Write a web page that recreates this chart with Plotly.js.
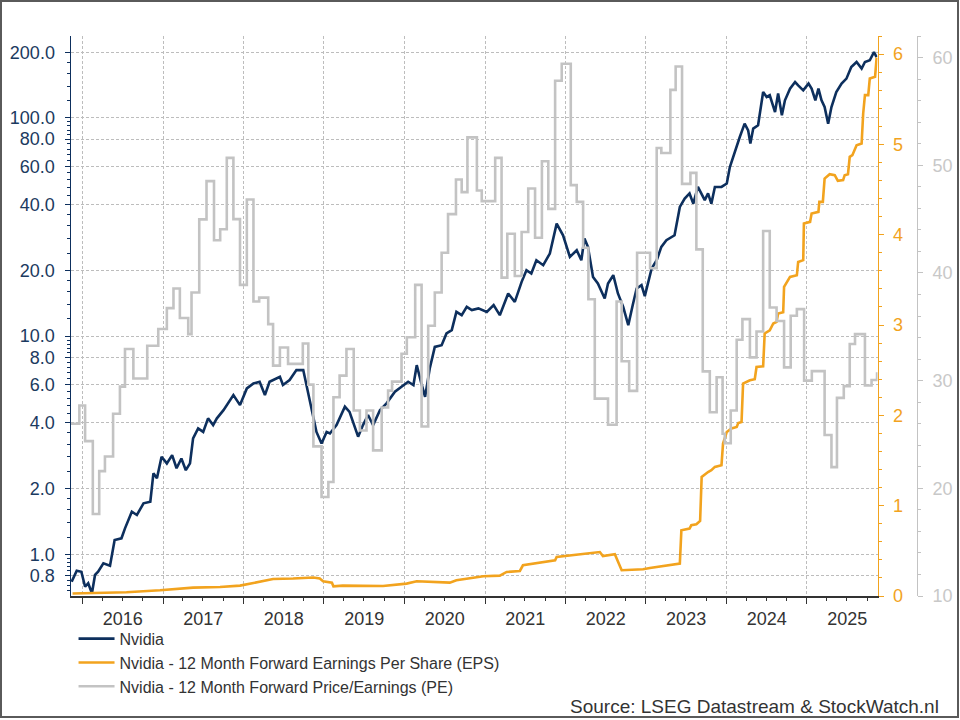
<!DOCTYPE html>
<html>
<head>
<meta charset="utf-8">
<script src="https://cdn.plot.ly/plotly-3.0.1.min.js"></script>
<style>
  html, body { margin: 0; padding: 0; background: #fff; }
  #wrap { position: relative; width: 960px; height: 720px; }
  #chart { width: 960px; height: 720px; }
  #frame { position: absolute; left: 0; top: 0; width: 959px; height: 718px; border: 2px solid #5a5a5a; box-sizing: border-box; pointer-events: none; }
</style>
</head>
<body>
<div id="wrap"><div id="chart"></div><div id="frame"></div></div>
<script>
// ---------------- DATA ----------------
const nvdaDates = ["2015-11-13","2015-12-06","2015-12-27","2016-01-13","2016-01-27","2016-02-13","2016-02-27","2016-03-12","2016-04-05","2016-05-05","2016-05-26","2016-06-26","2016-07-12","2016-08-12","2016-09-04","2016-10-04","2016-11-04","2016-11-18","2016-12-04","2016-12-25","2017-01-18","2017-02-11","2017-03-03","2017-03-25","2017-04-14","2017-05-03","2017-05-17","2017-06-09","2017-07-02","2017-07-24","2017-08-16","2017-09-02","2017-10-02","2017-10-23","2017-11-16","2017-12-16","2018-01-16","2018-02-15","2018-03-15","2018-04-08","2018-04-29","2018-06-15","2018-06-29","2018-07-29","2018-08-29","2018-09-29","2018-10-14","2018-10-29","2018-11-28","2018-12-21","2019-01-13","2019-01-28","2019-02-27","2019-04-06","2019-04-27","2019-06-05","2019-06-27","2019-07-20","2019-08-12","2019-09-12","2019-10-12","2019-11-19","2019-12-19","2020-01-18","2020-02-11","2020-02-26","2020-03-18","2020-04-04","2020-04-25","2020-05-18","2020-06-18","2020-07-10","2020-08-03","2020-08-24","2020-09-17","2020-10-10","2020-11-02","2020-12-02","2021-01-09","2021-02-09","2021-03-09","2021-04-16","2021-05-16","2021-06-16","2021-07-08","2021-07-30","2021-08-22","2021-09-22","2021-10-22","2021-11-22","2021-12-21","2022-01-21","2022-02-21","2022-03-14","2022-03-28","2022-04-13","2022-05-06","2022-05-28","2022-06-28","2022-07-13","2022-08-06","2022-08-27","2022-09-20","2022-10-13","2022-11-02","2022-11-20","2022-12-12","2022-12-27","2023-01-27","2023-02-19","2023-03-12","2023-04-04","2023-05-11","2023-06-04","2023-06-26","2023-07-18","2023-08-04","2023-08-25","2023-09-25","2023-10-10","2023-10-25","2023-11-10","2023-12-10","2024-01-03","2024-01-17","2024-02-10","2024-03-02","2024-03-24","2024-04-09","2024-04-19","2024-05-02","2024-05-24","2024-06-16","2024-07-02","2024-07-16","2024-08-09","2024-08-23","2024-09-09","2024-09-23","2024-10-16","2024-11-08","2024-11-22","2024-12-15","2025-01-08","2025-01-22","2025-02-08","2025-02-22","2025-03-08","2025-03-22","2025-04-07","2025-04-22","2025-05-14","2025-06-07","2025-06-29","2025-07-21","2025-08-14","2025-09-06","2025-09-21","2025-10-13","2025-11-01","2025-11-13"];
const nvdaPrice = [0.749,0.841,0.832,0.710,0.737,0.663,0.804,0.832,0.909,0.887,1.163,1.184,1.315,1.567,1.514,1.713,1.742,2.35,2.23,2.80,2.61,2.85,2.48,2.75,2.43,2.61,3.40,3.78,3.64,4.20,3.91,4.20,4.58,4.92,5.37,4.83,5.76,6.07,6.18,5.37,6.18,6.51,5.97,6.29,6.99,6.99,5.97,5.00,3.64,3.22,3.64,3.58,3.91,4.75,4.50,3.46,3.91,4.35,3.91,4.58,4.92,5.56,5.86,6.18,5.97,7.36,6.07,5.27,7.11,8.93,9.09,10.29,10.65,12.92,12.48,13.62,13.16,13.40,12.92,13.87,12.48,15.69,14.36,17.74,20.06,19.38,22.29,21.15,23.92,32.8,29.0,23.08,24.77,22.29,28.03,25.65,18.69,17.43,14.89,17.43,19.03,15.69,13.62,11.23,13.87,16.54,17.13,15.25,20.42,22.29,25.65,27.54,29.0,39.1,42.7,45.1,40.5,48.3,42.0,45.1,40.5,48.3,48.3,50.1,59.6,71.1,81.8,94.2,87.8,76.3,89.4,92.6,131.5,124.8,127.1,106.5,129.4,102.9,120.5,136.3,146.2,141.2,133.9,143.8,136.3,120.5,136.3,120.5,112.3,94.2,112.3,131.5,143.8,151.5,171.2,180.5,168.4,180.5,183.8,200.6,190.3];

const epsDates = ["2015-11-17","2016-02-13","2016-04-05","2016-07-19","2016-12-18","2017-05-17","2017-09-16","2017-12-16","2018-02-15","2018-05-15","2018-08-14","2018-11-14","2018-12-13","2018-12-28","2019-02-06","2019-02-13","2019-03-27","2019-09-26","2020-01-11","2020-02-26","2020-07-25","2020-08-24","2020-12-24","2021-03-09","2021-04-09","2021-06-08","2021-06-22","2021-09-22","2021-11-15","2021-11-22","2022-03-21","2022-06-06","2022-06-20","2022-08-13","2022-09-13","2022-12-19","2023-01-19","2023-06-04","2023-06-11","2023-07-18","2023-07-26","2023-08-18","2023-09-04","2023-09-11","2023-10-10","2023-10-25","2023-11-10","2023-12-10","2023-12-17","2024-01-03","2024-01-24","2024-02-17","2024-02-24","2024-03-10","2024-03-17","2024-04-17","2024-05-09","2024-05-17","2024-06-16","2024-06-23","2024-07-16","2024-08-01","2024-08-16","2024-08-23","2024-09-15","2024-09-19","2024-10-16","2024-11-16","2024-11-22","2024-12-15","2024-12-18","2025-01-15","2025-01-22","2025-02-22","2025-02-26","2025-03-14","2025-03-22","2025-04-14","2025-05-07","2025-05-21","2025-06-14","2025-06-21","2025-07-06","2025-07-14","2025-07-26","2025-08-14","2025-09-06","2025-09-13","2025-09-21","2025-10-06","2025-10-13","2025-11-06","2025-11-13"];
const epsValues = [0.027,0.033,0.035,0.041,0.063,0.093,0.100,0.115,0.144,0.188,0.193,0.204,0.193,0.163,0.148,0.107,0.115,0.111,0.137,0.163,0.148,0.174,0.218,0.226,0.266,0.277,0.340,0.377,0.395,0.432,0.470,0.487,0.443,0.462,0.285,0.296,0.310,0.359,0.728,0.746,0.783,0.794,0.831,1.318,1.373,1.392,1.429,1.447,1.688,1.816,1.854,1.872,1.916,1.927,2.352,2.389,2.400,2.536,2.544,2.906,2.942,3.017,3.034,3.127,3.142,3.422,3.533,3.551,3.699,3.718,4.124,4.142,4.235,4.253,4.363,4.363,4.622,4.670,4.659,4.596,4.604,4.659,4.670,4.862,4.880,4.991,5.010,5.342,5.545,5.545,5.730,5.748,5.960];

const peDates = ["2015-11-10","2015-12-18","2016-01-13","2016-02-17","2016-03-17","2016-04-12","2016-05-19","2016-06-19","2016-07-12","2016-08-19","2016-10-21","2016-12-10","2017-01-18","2017-02-17","2017-03-18","2017-04-25","2017-05-10","2017-06-14","2017-07-17","2017-08-20","2017-09-17","2017-10-17","2017-11-16","2017-12-16","2018-01-16","2018-02-15","2018-03-13","2018-04-23","2018-05-15","2018-06-15","2018-07-22","2018-09-27","2018-10-22","2018-11-14","2018-12-21","2019-01-21","2019-02-13","2019-03-13","2019-04-13","2019-05-16","2019-06-13","2019-07-13","2019-08-12","2019-09-20","2019-10-19","2019-11-06","2019-12-19","2020-01-12","2020-02-19","2020-03-19","2020-04-18","2020-05-18","2020-06-18","2020-07-17","2020-08-22","2020-09-17","2020-10-13","2020-11-25","2020-12-17","2021-02-16","2021-03-17","2021-04-12","2021-05-16","2021-06-16","2021-07-16","2021-08-16","2021-09-16","2021-10-15","2021-11-15","2021-12-15","2022-01-25","2022-02-21","2022-03-22","2022-04-15","2022-05-14","2022-07-13","2022-08-21","2022-09-13","2022-10-17","2022-11-22","2023-01-20","2023-02-19","2023-03-12","2023-04-22","2023-05-16","2023-06-14","2023-07-22","2023-08-18","2023-09-16","2023-10-18","2023-11-18","2023-12-15","2023-12-25","2024-01-21","2024-02-17","2024-03-14","2024-04-17","2024-05-17","2024-06-16","2024-07-16","2024-08-16","2024-09-19","2024-10-19","2024-11-16","2024-12-19","2025-01-23","2025-03-22","2025-04-22","2025-05-17","2025-06-17","2025-07-14","2025-08-07","2025-09-21","2025-10-21","2025-11-15"];
const peValues = [26.0,27.69,24.38,17.62,21.60,22.96,26.92,29.44,32.94,30.19,33.24,34.79,36.73,38.55,35.81,34.32,38.18,44.97,48.52,43.03,44.05,50.68,45.0,38.89,46.82,37.34,37.71,35.25,31.39,33.08,31.55,33.45,29.63,23.89,19.19,20.58,28.45,30.46,32.94,27.22,25.37,27.22,23.52,27.5,29.07,29.91,32.5,34.03,38.89,25.74,35.09,38.18,41.88,45.46,48.68,47.5,52.59,47.66,46.67,50.68,39.56,43.64,39.72,43.8,47.84,43.27,50.37,45.95,57.84,59.42,48.15,46.6,42.34,37.56,28.33,25.9,37.34,31.8,29.05,41.88,40.43,51.6,51.14,57.0,59.17,48.27,49.29,42.19,30.86,27.06,30.31,25.06,24.19,27.22,33.8,35.71,32.16,34.56,43.89,36.79,35.53,31.23,36.02,36.64,30.0,30.88,24.95,21.97,28.4,29.49,33.4,34.32,29.54,30.06,30.77];

const seriesNames = ["Nvidia", "Nvidia - 12 Month Forward Earnings Per Share (EPS)", "Nvidia - 12 Month Forward Price/Earnings (PE)"];
const priceTicks = [0.8, 1, 2, 4, 6, 8, 10, 20, 40, 60, 80, 100, 200];
const epsTicks = [0, 1, 2, 3, 4, 5, 6];
const peTicks = [10, 20, 30, 40, 50, 60];
const sourceText = "Source: LSEG Datastream & StockWatch.nl";

// ---------------- STYLE ----------------
const NAVY = "#0d2f5d";
const ORANGE = "#f2a31e";
const GREY = "#c3c3c3";
const FONT = "Liberation Sans, Arial, sans-serif";

// minor ticks for the log axis: each interval between major ticks split in 5
const ext = [0.6].concat(priceTicks, [400]);
const priceMinor = [];
for (let i = 0; i < ext.length - 1; i++) {
  for (let j = 1; j < 5; j++) priceMinor.push(ext[i] + (ext[i + 1] - ext[i]) * j / 5);
}

const W = 960, H = 720;
const mL = 71, mR = 43, mT = 36, mB = 124;
const plotRight = 877.5;
const domEnd = (plotRight - mL) / (W - mL - mR);

const traces = [
  { x: nvdaDates, y: nvdaPrice, name: seriesNames[0], type: "scatter", mode: "lines",
    line: { color: NAVY, width: 2.6 }, yaxis: "y" },
  { x: epsDates, y: epsValues, name: seriesNames[1], type: "scatter", mode: "lines",
    line: { color: ORANGE, width: 2.6 }, yaxis: "y2" },
  { x: peDates, y: peValues, name: seriesNames[2], type: "scatter", mode: "lines",
    line: { color: GREY, width: 2.6, shape: "hv" }, yaxis: "y3" }
];

const gridDash = "3px,2px";
const layout = {
  width: W, height: H,
  margin: { l: mL, r: mR, t: mT, b: mB, pad: 0, autoexpand: false },
  paper_bgcolor: "#ffffff", plot_bgcolor: "#ffffff",
  font: { family: FONT, size: 16, color: "#333333" },
  showlegend: true,
  hovermode: false,
  xaxis: {
    type: "date",
    domain: [0, domEnd],
    range: ["2015-11-10", "2025-11-17"],
    tick0: "2016-01-01", dtick: "M12", tickformat: "%Y", ticklabelmode: "period",
    ticks: "outside", ticklen: 6, tickwidth: 1, tickcolor: "#333",
    showline: true, linecolor: "#333", linewidth: 1.5,
    showgrid: true, gridcolor: "#bdbdbd", gridwidth: 1, griddash: gridDash,
    zeroline: false,
    tickfont: { family: FONT, size: 18, color: "#333" },
    minor: { dtick: "M3", ticks: "outside", ticklen: 3, tickcolor: "#333", showgrid: false }
  },
  yaxis: {
    type: "log",
    range: [Math.log10(0.644), Math.log10(237.6)],
    tickmode: "array", tickvals: priceTicks, tickformat: ".1f",
    ticks: "outside", ticklen: 5, tickcolor: NAVY, tickwidth: 1,
    ticklabelstandoff: 6,
    showline: true, linecolor: NAVY, linewidth: 1.5,
    showgrid: true, gridcolor: "#bdbdbd", gridwidth: 1, griddash: gridDash,
    zeroline: false,
    tickfont: { family: FONT, size: 18, color: "#1b3a60" },
    minor: { tickmode: "array", tickvals: priceMinor, ticks: "outside", ticklen: 3, tickcolor: NAVY, showgrid: false }
  },
  yaxis2: {
    overlaying: "y", side: "right", anchor: "x",
    range: [0, 6.2],
    tickmode: "array", tickvals: epsTicks,
    ticks: "outside", ticklen: 5, tickcolor: ORANGE, tickwidth: 1,
    ticklabelstandoff: 6,
    showline: true, linecolor: ORANGE, linewidth: 1,
    showgrid: false, zeroline: false,
    tickfont: { family: FONT, size: 18, color: ORANGE },
    minor: { dtick: 0.2, ticks: "outside", ticklen: 3, tickcolor: ORANGE, showgrid: false }
  },
  yaxis3: {
    overlaying: "y", side: "right", anchor: "free", position: 1,
    range: [10, 62],
    tickmode: "array", tickvals: peTicks,
    ticks: "outside", ticklen: 5, tickcolor: GREY, tickwidth: 1,
    ticklabelstandoff: 6,
    showline: true, linecolor: GREY, linewidth: 1,
    showgrid: false, zeroline: false,
    tickfont: { family: FONT, size: 18, color: "#c8c8c8" },
    minor: { dtick: 2, ticks: "outside", ticklen: 3, tickcolor: GREY, showgrid: false }
  },
  legend: {
    orientation: "v",
    x: 0.003, xanchor: "left",
    y: -0.046, yanchor: "top",
    font: { family: FONT, size: 16, color: "#333" },
    bgcolor: "rgba(0,0,0,0)", borderwidth: 0,
    itemwidth: 36, tracegroupgap: 0
  },
  annotations: [{
    text: sourceText, xref: "paper", yref: "paper",
    x: (940.7 - mL) / (W - mL - mR), xanchor: "right",
    y: -0.198, yanchor: "middle",
    showarrow: false,
    font: { family: FONT, size: 19, color: "#333" }
  }]
};

Plotly.newPlot("chart", traces, layout, { staticPlot: true, displayModeBar: false });
</script>
</body>
</html>
